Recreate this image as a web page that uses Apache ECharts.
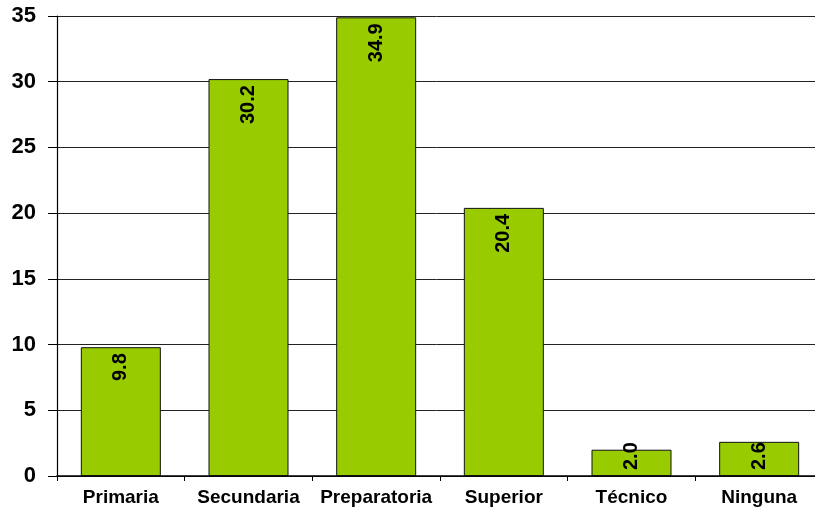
<!DOCTYPE html>
<html>
<head>
<meta charset="utf-8">
<script src="https://cdn.jsdelivr.net/npm/echarts@6/dist/echarts.min.js"></script>
<style>html,body{margin:0;padding:0;background:#fff}#c{width:815px;height:512px}</style>
</head>
<body>
<div id="c"></div>
<script>
var categories = ['Primaria', 'Secundaria', 'Preparatoria', 'Superior', 'Técnico', 'Ninguna'];
var values = [9.8, 30.2, 34.9, 20.4, 2.0, 2.6];
var yMin = 0, yMax = 35, yStep = 5;

var chart = echarts.init(document.getElementById('c'), null, {renderer: 'canvas'});
var font = 'Arial, "Liberation Sans", sans-serif';
var data = values.map(function (v) {
  var d = {value: v};
  if (v < 5) {
    d.label = {position: 'insideBottom', align: 'left', distance: 6};
  }
  return d;
});
chart.setOption({
  animation: false,
  backgroundColor: '#fff',
  grid: {left: 57, width: 766, top: 16, bottom: 36, containLabel: false, outerBoundsMode: 'none'},
  xAxis: {
    type: 'category',
    data: categories,
    axisLine: {lineStyle: {color: '#000', width: 1.5}},
    axisTick: {show: true, length: 5, lineStyle: {color: '#000'}},
    axisLabel: {color: '#000', fontWeight: 'bold', fontSize: 19, fontFamily: font, margin: 12, interval: 0}
  },
  yAxis: {
    type: 'value',
    min: yMin, max: yMax, interval: yStep,
    axisLine: {show: true, lineStyle: {color: '#000', width: 1.2}},
    axisTick: {show: true, length: 9, lineStyle: {color: '#000'}},
    axisLabel: {color: '#000', fontWeight: 'bold', fontSize: 22, fontFamily: font, margin: 21},
    splitLine: {lineStyle: {color: '#222', width: 1}}
  },
  series: [{
    type: 'bar',
    data: data,
    barWidth: 80,
    itemStyle: {color: '#99CC00', borderColor: '#111', borderWidth: 1},
    label: {
      show: true,
      position: 'insideTop',
      distance: 6,
      rotate: 90,
      align: 'right',
      verticalAlign: 'middle',
      formatter: function (p) { return p.value.toFixed(1); },
      color: '#000',
      fontWeight: 'bold',
      fontSize: 20,
      fontFamily: font
    }
  }]
});
</script>
</body>
</html>
